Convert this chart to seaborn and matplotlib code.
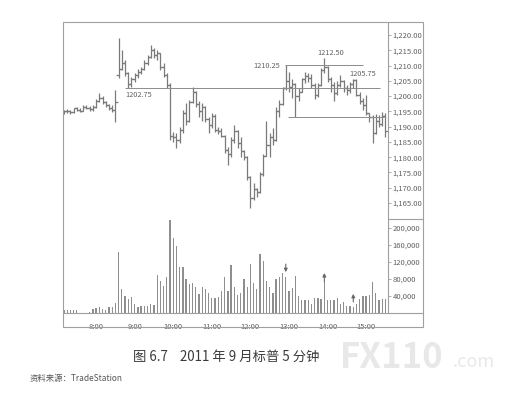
import pandas as pd
import numpy as np
import matplotlib
matplotlib.use('Agg')
import matplotlib.pyplot as plt
import seaborn as sns
from matplotlib.lines import Line2D
from matplotlib.patches import Rectangle
from matplotlib.ticker import FuncFormatter, FixedLocator

# 5-minute bars, 7:10 to 15:30
times = pd.date_range('2011-09-01 07:10', '2011-09-01 15:30', freq='5min')

opens = [1194.5, 1195.0, 1195.25, 1194.75, 1196.0, 1195.5, 1195.25, 1196.5, 1196.25, 1195.75,
         1196.5, 1198.5, 1199.5, 1198.0, 1197.0, 1196.0, 1195.5,
         1207.0, 1209.0, 1211.0, 1207.5, 1204.0, 1205.5, 1207.0, 1208.0, 1209.0, 1211.0,
         1212.75, 1215.0, 1213.5, 1214.0, 1209.5, 1207.0, 1203.5, 1187.0, 1186.5, 1185.5,
         1189.0, 1194.5, 1192.0, 1198.0, 1201.5, 1197.5, 1195.0, 1196.5, 1192.5, 1190.5,
         1193.5, 1189.0, 1188.5, 1187.0, 1182.5, 1181.0, 1185.5, 1188.5, 1184.5, 1182.0,
         1180.0, 1173.5, 1166.5, 1169.5, 1168.5, 1174.5, 1180.5, 1184.0, 1186.5, 1185.5,
         1195.0, 1197.5, 1202.5, 1205.0, 1203.0, 1204.0, 1200.0, 1201.5, 1205.5, 1206.5,
         1206.0, 1203.5, 1200.5, 1203.5, 1208.5, 1209.5, 1205.5, 1203.5, 1201.0, 1203.5,
         1205.0, 1202.5, 1202.0, 1204.0, 1205.25, 1200.5, 1198.5, 1197.0, 1194.5, 1193.0,
         1188.0, 1192.0, 1191.0, 1193.5]
highs = [1195.5, 1195.75, 1195.5, 1196.25, 1196.5, 1196.0, 1197.0, 1197.25, 1196.75, 1197.0,
         1199.0, 1201.0, 1200.0, 1198.5, 1197.5, 1197.0, 1202.0,
         1219.0, 1215.0, 1211.75, 1208.0, 1206.25, 1207.5, 1209.0, 1209.5, 1211.75, 1213.5,
         1216.75, 1215.75, 1215.0, 1214.0, 1210.75, 1207.5, 1204.25, 1188.25, 1188.0, 1190.0,
         1195.5, 1197.75, 1198.75, 1203.0, 1201.75, 1198.5, 1197.75, 1196.75, 1193.0, 1194.5,
         1194.0, 1190.0, 1189.5, 1187.25, 1183.5, 1186.5, 1190.5, 1188.75, 1186.5, 1182.5,
         1180.25, 1174.0, 1171.5, 1170.0, 1175.0, 1181.0, 1192.0, 1188.0, 1189.5, 1196.5,
         1198.75, 1203.0, 1210.25, 1207.75, 1205.5, 1204.25, 1202.5, 1206.0, 1208.0, 1207.5,
         1207.25, 1204.25, 1204.25, 1209.25, 1212.5, 1209.75, 1206.25, 1204.5, 1205.0, 1207.0,
         1205.25, 1203.5, 1204.5, 1205.75, 1205.5, 1201.5, 1199.5, 1200.25, 1194.5, 1193.75,
         1194.25, 1193.75, 1194.75, 1194.5]
lows = [1194.0, 1194.5, 1194.25, 1194.5, 1195.0, 1194.75, 1195.0, 1195.75, 1195.0, 1195.25,
        1196.25, 1198.0, 1197.5, 1196.5, 1195.5, 1194.75, 1191.5,
        1206.0, 1208.5, 1206.5, 1202.75, 1203.0, 1204.5, 1206.0, 1207.25, 1208.5, 1210.25,
        1212.5, 1212.5, 1211.75, 1208.5, 1206.25, 1202.5, 1185.5, 1185.0, 1183.0, 1184.5,
        1188.0, 1190.5, 1191.5, 1197.75, 1196.5, 1193.0, 1192.0, 1191.5, 1188.0, 1189.5,
        1188.25, 1187.75, 1186.5, 1181.5, 1177.5, 1180.0, 1184.5, 1183.0, 1180.0, 1179.0,
        1172.5, 1163.5, 1166.0, 1167.0, 1168.25, 1174.0, 1180.5, 1180.0, 1184.0, 1185.25,
        1193.0, 1197.25, 1202.0, 1201.5, 1199.5, 1193.25, 1198.5, 1201.25, 1204.25, 1204.5,
        1202.5, 1199.0, 1199.75, 1203.25, 1207.5, 1204.5, 1201.5, 1198.5, 1200.5, 1203.0,
        1201.25, 1200.5, 1201.0, 1202.5, 1200.0, 1197.5, 1195.5, 1193.75, 1191.5, 1184.75,
        1187.5, 1190.0, 1190.25, 1186.5]
closes = [1195.0, 1195.25, 1194.75, 1196.0, 1195.5, 1195.25, 1196.5, 1196.25, 1195.75, 1196.5,
          1198.5, 1199.5, 1198.0, 1197.0, 1196.0, 1195.5, 1198.0,
          1209.0, 1211.0, 1207.5, 1204.0, 1205.5, 1207.0, 1208.0, 1209.0, 1211.0, 1212.75,
          1215.0, 1213.5, 1214.0, 1209.5, 1207.0, 1203.5, 1187.0, 1186.5, 1185.5, 1189.0,
          1194.5, 1192.0, 1198.0, 1201.5, 1197.5, 1195.0, 1196.5, 1192.5, 1190.5, 1193.5,
          1189.0, 1188.5, 1187.0, 1182.5, 1181.0, 1185.5, 1188.5, 1184.5, 1182.0, 1180.0,
          1173.5, 1166.5, 1169.5, 1168.5, 1174.5, 1180.5, 1184.0, 1186.5, 1185.5, 1195.0,
          1197.5, 1202.5, 1205.0, 1203.0, 1204.0, 1200.0, 1201.5, 1205.5, 1206.5, 1206.0,
          1203.5, 1200.5, 1203.5, 1208.5, 1209.5, 1205.5, 1203.5, 1201.0, 1203.5, 1205.0,
          1202.5, 1202.0, 1204.0, 1205.25, 1200.5, 1198.5, 1197.0, 1194.5, 1193.0, 1188.0,
          1192.0, 1191.0, 1193.5, 1188.5]
# volume in thousands of contracts
volume = [8, 8, 8, 7, 8, 1, 1, 1, 2, 9, 12, 13, 10, 8, 13, 15, 24,
          144, 56, 40, 32, 38, 20, 13, 16, 17, 17, 20, 19, 89, 75, 64, 85,
          219, 177, 158, 107, 107, 79, 68, 71, 60, 45, 60, 56, 46, 36, 36, 37,
          52, 85, 52, 113, 62, 42, 46, 79, 62, 115, 71, 56, 139, 122, 75, 60,
          48, 80, 85, 94, 85, 52, 58, 87, 40, 30, 30, 30, 20, 36, 36, 34,
          74, 30, 30, 30, 36, 20, 26, 16, 16, 13, 20, 34, 40, 40, 42, 74,
          48, 30, 33, 33]

# support / resistance lines: (price, start, end)
level_prices = [1202.75, 1210.25, 1193.25]
level_starts = ['08:45', '12:54', '12:58']
level_ends = ['15:21', '14:55', '15:28']

# price labels
label_texts = ['1202.75', '1210.25', '1212.50', '1205.75']
label_times = ['08:45', '12:46', '14:05', '14:55']
label_prices = [1200.5, 1210.0, 1214.1, 1207.3]
label_align = ['left', 'right', 'center', 'center']

# arrows on volume panel: time, from, to (thousands)
arrow_times = ['12:55', '13:55', '14:40']
arrow_from = [115, 73, 26]
arrow_to = [96, 94, 45]

hour_ticks = ['8:00', '9:00', '10:00', '11:00', '12:00', '13:00', '14:00', '15:00']


def to_min(s):
    h, m = s.split(':')
    return int(h) * 60 + int(m)


df = pd.DataFrame({'time': times, 'open': opens, 'high': highs, 'low': lows,
                   'close': closes, 'volume': np.array(volume) * 1000})
df['minute'] = df['time'].dt.hour * 60 + df['time'].dt.minute

sns.set_theme(style='white')
plt.rcParams['font.family'] = ['Noto Sans CJK SC', 'DejaVu Sans']

bar_col = '#7a7a7a'
vol_col = '#8e8e8e'
frame_col = '#a0a0a0'
text_col = '#606060'
W, H = 513, 401
fig = plt.figure(figsize=(W / 100, H / 100), dpi=100)


def fig_box(x0, y0, x1, y1):
    return [x0 / W, (H - y1) / H, (x1 - x0) / W, (y1 - y0) / H]


ax_p = fig.add_axes(fig_box(63, 22, 388, 219))
ax_v = fig.add_axes(fig_box(63, 219, 388, 313))
xlim = (428.5, 934)

# price bars
ax_p.vlines(df['minute'], df['low'], df['high'], color=bar_col, lw=0.9)
ax_p.plot(df['minute'], df['open'], ls='none', marker=0, ms=2.2, mew=0.9, color=bar_col)
ax_p.plot(df['minute'], df['close'], ls='none', marker=1, ms=2.2, mew=0.9, color=bar_col)

for p, s, e in zip(level_prices, level_starts, level_ends):
    ax_p.hlines(p, to_min(s), to_min(e), color='#8c8c8c', lw=0.7)
for t, tm, p, a in zip(label_texts, label_times, label_prices, label_align):
    ax_p.text(to_min(tm), p, t, ha=a, va='center', fontsize=5.3, color=text_col)

ax_p.set_xlim(*xlim)
ax_p.set_ylim(1159.77, 1224.26)
ax_p.yaxis.tick_right()
ax_p.yaxis.set_major_locator(FixedLocator(np.arange(1165, 1221, 5)))
ax_p.yaxis.set_major_formatter(FuncFormatter(lambda v, _: f'{v:,.2f}'))
ax_p.set_xticks([])
ax_p.tick_params(axis='y', right=True, length=2, width=0.6, color=frame_col,
                 labelsize=5.5, labelcolor=text_col, pad=1.5)

# volume
sns.barplot(data=df, x='minute', y='volume', native_scale=True, color=vol_col,
            width=0.4, errorbar=None, ax=ax_v, linewidth=0, saturation=1)
for t, a, b in zip(arrow_times, arrow_from, arrow_to):
    ax_v.annotate('', xy=(to_min(t), b * 1000), xytext=(to_min(t), a * 1000),
                  arrowprops=dict(arrowstyle='-|>', color='#666666', lw=0.8,
                                  mutation_scale=5, shrinkA=0, shrinkB=0))
ax_v.set_xlim(*xlim)
ax_v.set_ylim(0, 221000)
ax_v.yaxis.tick_right()
ax_v.yaxis.set_major_locator(FixedLocator([40000, 80000, 120000, 160000, 200000]))
ax_v.yaxis.set_major_formatter(FuncFormatter(lambda v, _: f'{v:,.0f}'))
ax_v.set_xticks([to_min(h) for h in hour_ticks])
ax_v.set_xticklabels(hour_ticks)
ax_v.set_xlabel('')
ax_v.set_ylabel('')
ax_v.tick_params(axis='y', right=True, length=2, width=0.6, color=frame_col,
                 labelsize=5.5, labelcolor=text_col, pad=1.5)
ax_v.tick_params(axis='x', bottom=False, labelsize=5.5, labelcolor=text_col, pad=1.5)

for ax in (ax_p, ax_v):
    for side in ('top', 'left', 'bottom'):
        ax.spines[side].set_visible(False)
    ax.spines['right'].set_color(frame_col)
    ax.spines['right'].set_linewidth(0.8)
    ax.set_facecolor('white')

# outer frame and separators
fig.add_artist(Rectangle((63 / W, (H - 327) / H), 360 / W, 305 / H, transform=fig.transFigure,
                         fill=False, edgecolor=frame_col, lw=0.8))
fig.add_artist(Line2D([388 / W, 423 / W], [(H - 219) / H] * 2, color=frame_col, lw=0.8))
fig.add_artist(Line2D([63 / W, 423 / W], [(H - 313) / H] * 2, color=frame_col, lw=0.8))

# caption, watermark, source
fig.text(133 / W, (H - 357) / H, '图 6.7    2011 年 9 月标普 5 分钟', fontsize=9.6,
         color='#3a3a3a', va='center', ha='left')
fig.text(340 / W, (H - 358) / H, 'FX110', fontsize=25, fontweight='bold',
         color='#e8e8e8', va='center', ha='left')
fig.text(453 / W, (H - 362) / H, '.com', fontsize=13, color='#e8e8e8', va='center', ha='left')
fig.text(30 / W, (H - 378) / H, '资料来源：TradeStation', fontsize=6,
         color='#555555', va='center', ha='left')

fig.savefig('out.png', dpi=100, facecolor='white')
